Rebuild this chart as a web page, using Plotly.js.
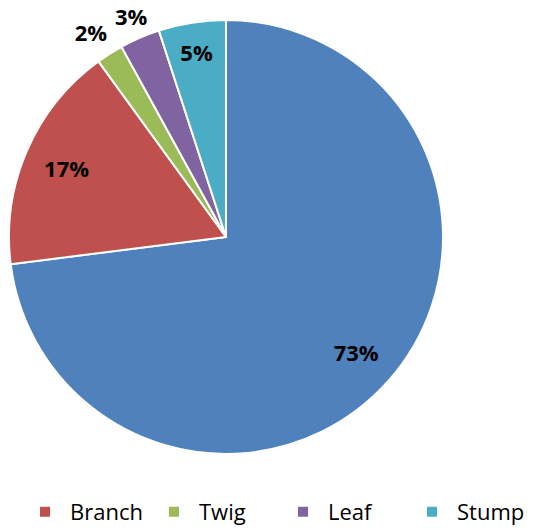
<!DOCTYPE html>
<html>
<head>
<meta charset="utf-8">
<script src="https://cdn.plot.ly/plotly-3.0.1.min.js"></script>
<style>
html,body{margin:0;padding:0;background:#fff;overflow:hidden;width:542px;height:529px;}
#wrap{width:542px;height:529px;overflow:hidden;position:relative;}
#chart{position:absolute;top:0;left:-150px;width:692px;height:529px;}
path.textline{display:none;}
</style>
</head>
<body>
<div id="wrap"><div id="chart"></div></div>
<script>
const categories = ['Stem', 'Branch', 'Twig', 'Leaf', 'Stump'];
const values = [73, 17, 2, 3, 5];
const colors = ['#4F81BD', '#C0504D', '#9BBB59', '#8064A2', '#4BACC6'];
const insidePositions = ['inside', 'inside', 'none', 'none', 'inside'];
const twigPositions = ['none', 'none', 'outside', 'none', 'none'];
const leafPositions = ['none', 'none', 'none', 'outside', 'none'];

// the chart is drawn wider than the window and shifted left, so the first legend entry falls off the left edge
const OFF = 150;
const W = 542 + OFF, H = 529;
const cx = 226 + OFF, cy = 237, r = 217;
function dom(rad) {
  return {x: [(cx - rad) / W, (cx + rad) / W], y: [(H - cy - rad) / H, (H - cy + rad) / H]};
}
const labelFont = {family: 'Open Sans, sans-serif', size: 22, color: '#000000', weight: 'bold'};
const clear = categories.map(() => 'rgba(0,0,0,0)');

const pieTrace = {
  type: 'pie',
  labels: categories,
  values: values,
  sort: false,
  direction: 'clockwise',
  rotation: 0,
  marker: {colors: colors, line: {color: '#ffffff', width: 2}},
  textinfo: 'none',
  domain: dom(r),
  automargin: false,
  hoverinfo: 'label+percent'
};

// transparent overlays that only carry the percentage labels
function labelLayer(positions, opts) {
  return Object.assign({
    type: 'pie',
    labels: categories,
    values: values,
    sort: false,
    direction: 'clockwise',
    rotation: 0,
    marker: {colors: clear, line: {width: 0}},
    textinfo: 'percent',
    textposition: positions,
    insidetextorientation: 'horizontal',
    textfont: labelFont,
    insidetextfont: labelFont,
    outsidetextfont: labelFont,
    domain: dom(r),
    automargin: false,
    showlegend: false,
    hoverinfo: 'skip'
  }, opts);
}

const insideLabels = labelLayer(insidePositions, {hole: 0.6});
const twigLabel = labelLayer(twigPositions, {rotation: 2.5, domain: dom(223)});
const leafLabel = labelLayer(leafPositions, {rotation: 4.5, domain: dom(219)});

const layout = {
  width: W, height: H,
  margin: {l: 0, r: 0, t: 0, b: 0, autoexpand: false},
  paper_bgcolor: '#ffffff',
  showlegend: true,
  legend: {
    orientation: 'h', x: (OFF - 82 - 27) / W, xanchor: 'left', y: 17 / H, yanchor: 'middle',
    font: {family: 'Open Sans, sans-serif', size: 22, color: '#000000'},
    itemwidth: 40,
    entrywidth: 74,
    entrywidthmode: 'pixels',
    traceorder: 'normal'
  }
};

Plotly.newPlot('chart', [pieTrace, insideLabels, twigLabel, leafLabel], layout, {displayModeBar: false, staticPlot: true});
</script>
</body>
</html>
